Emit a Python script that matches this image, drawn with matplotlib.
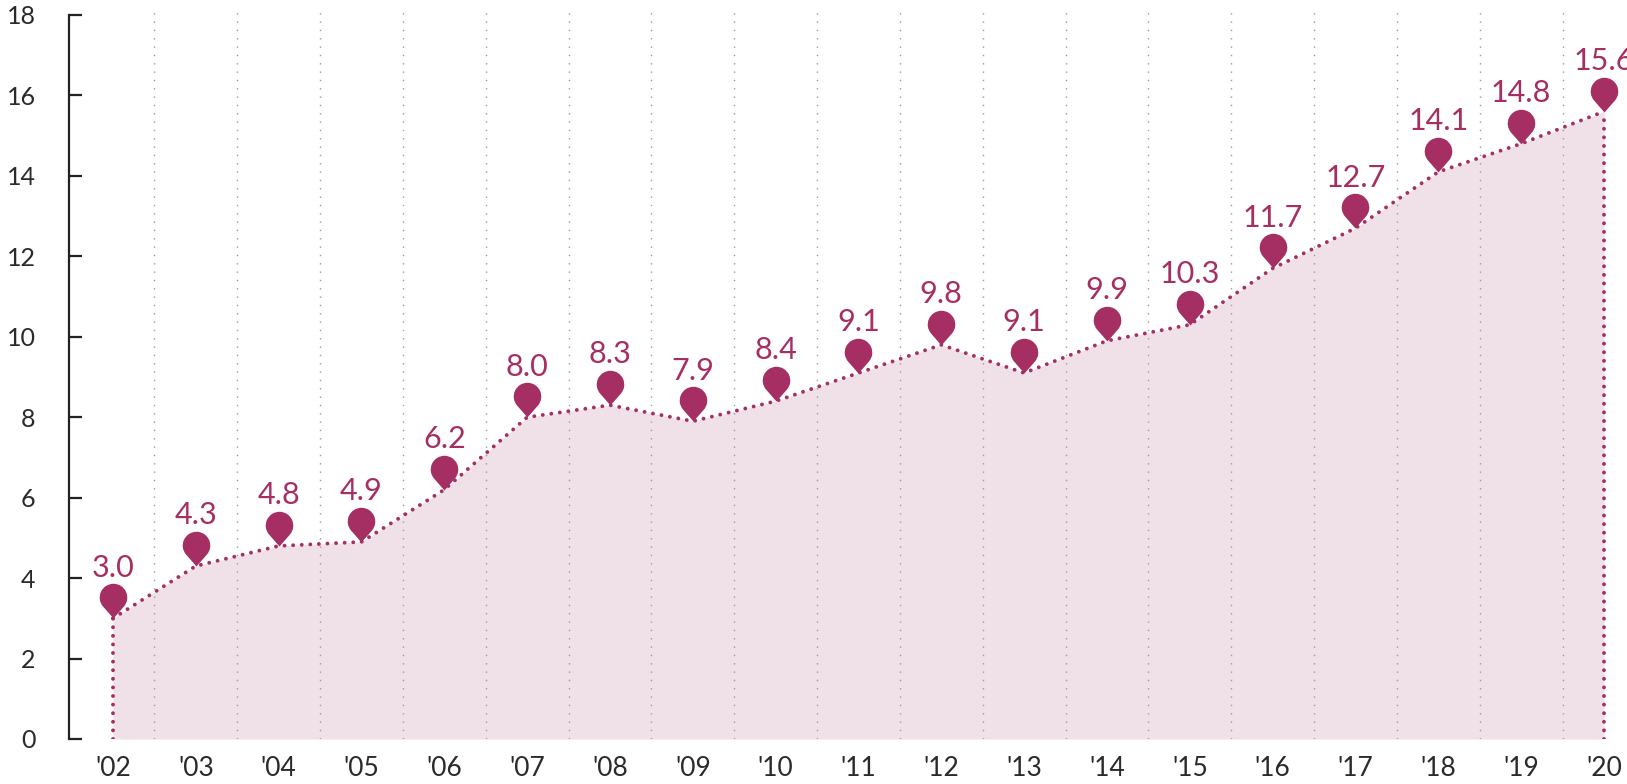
import numpy as np
import matplotlib
matplotlib.use('Agg')
import matplotlib.pyplot as plt
from matplotlib.path import Path

# Data
years = ["'02", "'03", "'04", "'05", "'06", "'07", "'08", "'09", "'10", "'11",
         "'12", "'13", "'14", "'15", "'16", "'17", "'18", "'19", "'20"]
values = [3.0, 4.3, 4.8, 4.9, 6.2, 8.0, 8.3, 7.9, 8.4, 9.1,
          9.8, 9.1, 9.9, 10.3, 11.7, 12.7, 14.1, 14.8, 15.6]
yticks = [0, 2, 4, 6, 8, 10, 12, 14, 16, 18]

MAIN = '#a52f63'
FILL = '#f0e1e8'
GRID = '#9a9a9a'
TEXT = '#2a2a2a'


def pin_path():
    # teardrop with its tip at the origin
    r, d = 1.0, 1.52
    alpha = np.degrees(np.arccos(r / d))
    arc = Path.arc(-90 + alpha, 270 - alpha)
    verts = arc.vertices * r + np.array([0, d])
    verts = np.vstack([[0, 0], verts, [0, 0]])
    codes = np.concatenate([[Path.MOVETO], [Path.LINETO], arc.codes[1:], [Path.CLOSEPOLY]])
    return Path(verts, codes)


plt.rcParams['font.family'] = ['Lato', 'DejaVu Sans']

fig = plt.figure(figsize=(16.27, 7.84), dpi=100)
ax = fig.add_axes([69 / 1627, 45 / 784, 1 - 69 / 1627, (739 - 10) / 784])

x = np.arange(len(values))
vals = np.array(values)

ax.fill_between(x, 0, vals, color=FILL, lw=0, zorder=1)

# vertical dotted guides between years
for xm in x[:-1] + 0.5:
    ax.plot([xm, xm], [0, 18.2], color=GRID, lw=1.0, ls=(0, (1, 5)), zorder=2)

dot = dict(color=MAIN, lw=2.8, ls=(0, (0.01, 2.2)), dash_capstyle='round', zorder=3)
ax.plot(x, vals, **dot)
ax.plot([x[0], x[0]], [0, vals[0]], **dot)
ax.plot([x[-1], x[-1]], [0, vals[-1]], **dot)

ax.plot(x, vals, ls='none', marker=pin_path(), markersize=50,
        color=MAIN, markeredgewidth=0, zorder=4)

for xi, v in zip(x, vals):
    ax.annotate(f'{v:.1f}', (xi, v), xytext=(0, 30), textcoords='offset points',
                ha='center', va='baseline', fontsize=22, color=MAIN,
                annotation_clip=False)

ax.set_xlim(-0.531, 18.278)
ax.set_ylim(0, 18.124)
ax.set_xticks(x)
ax.set_xticklabels(years)
ax.set_yticks(yticks)

for s in ['top', 'right', 'bottom']:
    ax.spines[s].set_visible(False)
ax.spines['left'].set_bounds(0, 18)
ax.spines['left'].set_linewidth(1.6)
ax.spines['left'].set_color('#222222')

ax.tick_params(axis='y', direction='in', length=9.5, width=1.6, color='#222222',
               pad=24, labelsize=18, labelcolor=TEXT)
ax.tick_params(axis='x', length=0, pad=12, labelsize=19, labelcolor=TEXT)

fig.savefig('out.png', dpi=100)
